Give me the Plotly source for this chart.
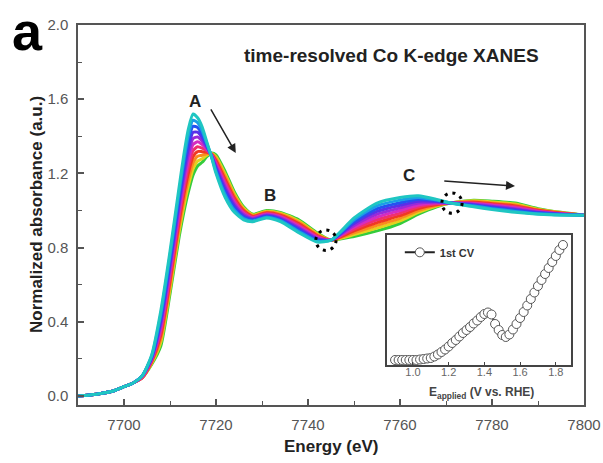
import plotly.graph_objects as go

# ---------------- data ----------------
energy_ev = [7690, 7694, 7698, 7700, 7702, 7704, 7706, 7708, 7710, 7712, 7713, 7714, 7715,
             7716, 7717, 7718, 7719, 7720, 7722, 7724, 7726, 7728, 7731, 7734, 7738, 7742,
             7745, 7750, 7755, 7760, 7764, 7768, 7771, 7776, 7780, 7785, 7790, 7795, 7800]

spec_t01 = [0.00, 0.01, 0.03, 0.05, 0.07, 0.11, 0.22, 0.46, 0.78, 1.13, 1.30, 1.44, 1.52, 1.50, 1.45, 1.37, 1.29, 1.20, 1.07, 0.99, 0.95, 0.94, 0.96, 0.94, 0.88, 0.83, 0.84, 0.96, 1.04, 1.07, 1.08, 1.06, 1.04, 1.02, 1.005, 0.99, 0.98, 0.975, 0.975]
spec_t02 = [0.00, 0.01, 0.03, 0.05, 0.07, 0.11, 0.215, 0.441, 0.757, 1.103, 1.269, 1.406, 1.487, 1.474, 1.431, 1.362, 1.292, 1.21, 1.084, 1.001, 0.957, 0.944, 0.964, 0.945, 0.887, 0.835, 0.84, 0.95, 1.025, 1.056, 1.07, 1.056, 1.04, 1.024, 1.01, 0.995, 0.983, 0.977, 0.975]
spec_t03 = [0.00, 0.01, 0.03, 0.05, 0.07, 0.11, 0.21, 0.422, 0.734, 1.076, 1.238, 1.372, 1.454, 1.448, 1.412, 1.354, 1.294, 1.22, 1.098, 1.012, 0.964, 0.948, 0.968, 0.95, 0.894, 0.84, 0.84, 0.94, 1.01, 1.042, 1.06, 1.052, 1.04, 1.027, 1.014, 1.00, 0.986, 0.978, 0.975]
spec_t04 = [0.00, 0.01, 0.03, 0.05, 0.07, 0.11, 0.205, 0.403, 0.711, 1.049, 1.207, 1.338, 1.421, 1.422, 1.393, 1.346, 1.296, 1.23, 1.112, 1.023, 0.971, 0.952, 0.972, 0.955, 0.901, 0.845, 0.84, 0.93, 0.995, 1.028, 1.05, 1.048, 1.04, 1.031, 1.019, 1.005, 0.989, 0.98, 0.975]
spec_t05 = [0.00, 0.01, 0.03, 0.05, 0.07, 0.11, 0.20, 0.384, 0.688, 1.022, 1.176, 1.304, 1.388, 1.396, 1.374, 1.338, 1.298, 1.24, 1.126, 1.034, 0.978, 0.956, 0.976, 0.96, 0.908, 0.85, 0.84, 0.92, 0.98, 1.014, 1.04, 1.044, 1.04, 1.034, 1.023, 1.01, 0.992, 0.981, 0.975]
spec_t06 = [0.00, 0.01, 0.03, 0.05, 0.07, 0.105, 0.195, 0.365, 0.665, 0.995, 1.145, 1.27, 1.355, 1.37, 1.355, 1.33, 1.30, 1.25, 1.14, 1.045, 0.985, 0.96, 0.98, 0.965, 0.915, 0.855, 0.84, 0.91, 0.965, 1.00, 1.03, 1.04, 1.04, 1.038, 1.028, 1.015, 0.995, 0.983, 0.975]
spec_t07 = [0.00, 0.01, 0.03, 0.05, 0.07, 0.10, 0.19, 0.346, 0.642, 0.968, 1.114, 1.236, 1.322, 1.344, 1.336, 1.322, 1.302, 1.26, 1.154, 1.056, 0.992, 0.964, 0.984, 0.97, 0.922, 0.86, 0.84, 0.90, 0.95, 0.986, 1.02, 1.036, 1.04, 1.041, 1.032, 1.02, 0.998, 0.984, 0.975]
spec_t08 = [0.00, 0.01, 0.03, 0.05, 0.07, 0.10, 0.185, 0.327, 0.619, 0.941, 1.083, 1.202, 1.289, 1.318, 1.317, 1.314, 1.304, 1.27, 1.168, 1.067, 0.999, 0.968, 0.988, 0.975, 0.929, 0.865, 0.84, 0.89, 0.935, 0.972, 1.01, 1.032, 1.04, 1.045, 1.037, 1.025, 1.001, 0.986, 0.975]
spec_t09 = [0.00, 0.01, 0.03, 0.05, 0.07, 0.10, 0.18, 0.308, 0.596, 0.914, 1.052, 1.168, 1.256, 1.292, 1.298, 1.306, 1.306, 1.28, 1.182, 1.078, 1.006, 0.972, 0.992, 0.98, 0.936, 0.87, 0.84, 0.88, 0.92, 0.958, 1.00, 1.028, 1.04, 1.048, 1.041, 1.03, 1.004, 0.987, 0.975]
spec_t10 = [0.00, 0.01, 0.03, 0.05, 0.07, 0.10, 0.175, 0.289, 0.573, 0.887, 1.021, 1.134, 1.223, 1.266, 1.279, 1.298, 1.308, 1.29, 1.196, 1.089, 1.013, 0.976, 0.996, 0.985, 0.943, 0.875, 0.84, 0.87, 0.905, 0.944, 0.99, 1.024, 1.04, 1.052, 1.046, 1.035, 1.007, 0.989, 0.975]
spec_t11 = [0.00, 0.01, 0.03, 0.05, 0.07, 0.10, 0.17, 0.27, 0.55, 0.86, 0.99, 1.10, 1.19, 1.24, 1.26, 1.29, 1.31, 1.30, 1.21, 1.10, 1.02, 0.98, 1.00, 0.99, 0.95, 0.88, 0.84, 0.86, 0.89, 0.93, 0.98, 1.02, 1.04, 1.055, 1.05, 1.04, 1.01, 0.99, 0.975]

spectra = [spec_t01, spec_t02, spec_t03, spec_t04, spec_t05, spec_t06,
           spec_t07, spec_t08, spec_t09, spec_t10, spec_t11]
spectra_colors = ["#1fc6c2", "#1a9fe6", "#2452f0", "#5a30e8", "#9a2ad8", "#d52cc0",
                  "#f0306e", "#f03a22", "#fa8c1e", "#e4d21e", "#34cc3c"]

# inset: 1st CV
cv_potential = [0.90, 0.92, 0.94, 0.96, 0.98, 1.00, 1.02, 1.04, 1.06, 1.08, 1.10, 1.12, 1.14,
                1.16, 1.18, 1.20, 1.22, 1.24, 1.26, 1.28, 1.30, 1.32, 1.34, 1.36, 1.38, 1.40,
                1.42, 1.44, 1.46, 1.48, 1.50, 1.52, 1.54, 1.56, 1.58, 1.60, 1.62, 1.64, 1.66,
                1.68, 1.70, 1.72, 1.74, 1.76, 1.78, 1.80, 1.82, 1.84]
cv_current = [0.0, 0.0, 0.0, 0.0, 0.0, 0.0, 0.0, 0.05, 0.1, 0.15, 0.2, 0.35, 0.55,
              0.8, 1.05, 1.35, 1.7, 2.0, 2.35, 2.7, 3.0, 3.3, 3.65, 3.95, 4.3, 4.6,
              4.75, 4.55, 3.6, 3.0, 2.5, 2.3, 2.55, 3.05, 3.6, 4.2, 4.8, 5.45, 6.1,
              6.75, 7.4, 8.0, 8.6, 9.2, 9.8, 10.4, 11.0, 11.5]

# ---------------- figure ----------------
FONT = "Arial, Liberation Sans, sans-serif"
AXC = "#555555"
fig = go.Figure()

# draw last spectra first so the first (cyan) ends on top
for spec, col in reversed(list(zip(spectra, spectra_colors))):
    fig.add_trace(go.Scatter(x=energy_ev, y=spec, mode="lines",
                             line=dict(color=col, width=3, shape="spline", smoothing=0.6),
                             showlegend=False, hoverinfo="skip", xaxis="x", yaxis="y"))

fig.add_trace(go.Scatter(x=cv_potential, y=cv_current, mode="lines+markers", name="<b>1st CV</b>",
                         line=dict(color="#222222", width=2),
                         marker=dict(symbol="circle", size=9, color="white",
                                     line=dict(color="#555555", width=1)),
                         xaxis="x2", yaxis="y2", showlegend=True))

fig.update_layout(
    width=603, height=463,
    margin=dict(l=78, r=19, t=25, b=58, autoexpand=False),
    paper_bgcolor="white", plot_bgcolor="white",
    font=dict(family=FONT, color=AXC),
    xaxis=dict(range=[7690, 7800], dtick=20, tick0=7700, showgrid=False, zeroline=False,
               showline=True, linecolor=AXC, linewidth=1.5, mirror=True, automargin=False,
               ticks="inside", ticklen=6, tickwidth=1.5, tickcolor=AXC,
               minor=dict(dtick=10, ticks="inside", ticklen=4, tickwidth=1.2, tickcolor=AXC),
               tickfont=dict(size=15, color=AXC, family=FONT), ticklabelstandoff=5),
    yaxis=dict(range=[-0.0485, 2.0], dtick=0.4, tick0=0, tickformat=".1f", showgrid=False,
               zeroline=False, showline=True, linecolor=AXC, linewidth=1.5, mirror=True,
               automargin=False,
               ticks="inside", ticklen=6, tickwidth=1.5, tickcolor=AXC,
               minor=dict(dtick=0.2, ticks="inside", ticklen=4, tickwidth=1.2, tickcolor=AXC),
               tickfont=dict(size=15, color=AXC, family=FONT), ticklabelstandoff=5),
    xaxis2=dict(domain=[0.6107, 0.9743], anchor="y2", range=[0.855, 1.885], dtick=0.2, tick0=1.0,
                tickformat=".1f", showgrid=False, zeroline=False, showline=True, linecolor="#444444",
                linewidth=1.5, mirror=True, ticks="inside", ticklen=3, tickcolor="#444444",
                tickfont=dict(size=11, color="#666666", family=FONT), ticklabelstandoff=-4),
    yaxis2=dict(domain=[0.1053, 0.4474], anchor="x2", range=[-0.5, 12.5], showgrid=False,
                zeroline=False, showline=True, linecolor="#444444", linewidth=1.5, mirror=True,
                showticklabels=False, ticks=""),
    legend=dict(x=0.636, y=0.44, xanchor="left", yanchor="top", bgcolor="rgba(0,0,0,0)",
                font=dict(size=11, color="#333333", family=FONT), itemwidth=30,
                tracegroupgap=0),
)

annotations = [
    dict(text="<b>a</b>", x=-0.10, y=0.985, xref="paper", yref="paper", showarrow=False,
         font=dict(size=54, color="black", family=FONT), xanchor="center", yanchor="middle"),
    dict(text="<b>Energy (eV)</b>", x=0.5, y=(405 - 446) / 380, xref="paper", yref="paper",
         showarrow=False, font=dict(size=17, color="#222222", family=FONT),
         xanchor="center", yanchor="middle"),
    dict(text="<b>Normalized absorbance (a.u.)</b>", x=(36 - 78) / 506, y=0.5, xref="paper",
         yref="paper", showarrow=False, textangle=-90,
         font=dict(size=17, color="#222222", family=FONT), xanchor="center", yanchor="middle"),
    dict(text="<b>time-resolved Co K-edge XANES</b>", x=0.619, y=0.921, xref="paper", yref="paper",
         showarrow=False, font=dict(size=19, color="#222222", family=FONT), xanchor="center", yanchor="middle"),
    dict(text="<b>A</b>", x=7715.5, y=1.59, xref="x", yref="y", showarrow=False,
         font=dict(size=17, color="#222222", family=FONT)),
    dict(text="<b>B</b>", x=7731.7, y=1.08, xref="x", yref="y", showarrow=False,
         font=dict(size=17, color="#222222", family=FONT)),
    dict(text="<b>C</b>", x=7762.0, y=1.19, xref="x", yref="y", showarrow=False,
         font=dict(size=17, color="#222222", family=FONT)),
    dict(text="<b>E<sub>applied</sub> (V vs. RHE)</b>", x=(481 - 78) / 506, y=(405 - 393) / 380,
         xref="paper", yref="paper", showarrow=False,
         font=dict(size=12, color="#444444", family=FONT), xanchor="center", yanchor="middle"),
    # arrows
    dict(x=7724.3, y=1.31, ax=7718.7, ay=1.553, xref="x", yref="y", axref="x", ayref="y",
         text="", showarrow=True, arrowhead=2, arrowsize=1.2, arrowwidth=1.5, arrowcolor="#222222"),
    dict(x=7785.0, y=1.132, ax=7769.3, ay=1.159, xref="x", yref="y", axref="x", ayref="y",
         text="", showarrow=True, arrowhead=2, arrowsize=1.2, arrowwidth=1.5, arrowcolor="#222222"),
]
fig.update_layout(annotations=annotations)

# dotted circles marking isosbestic points
for cx, cy in [(7743.9, 0.84), (7771.3, 1.04)]:
    fig.add_shape(type="circle", xref="x", yref="y",
                  x0=cx - 2.2, x1=cx + 2.2, y0=cy - 0.055, y1=cy + 0.055,
                  line=dict(color="black", width=3, dash="3px,5px"))

fig.write_html("out.html")
